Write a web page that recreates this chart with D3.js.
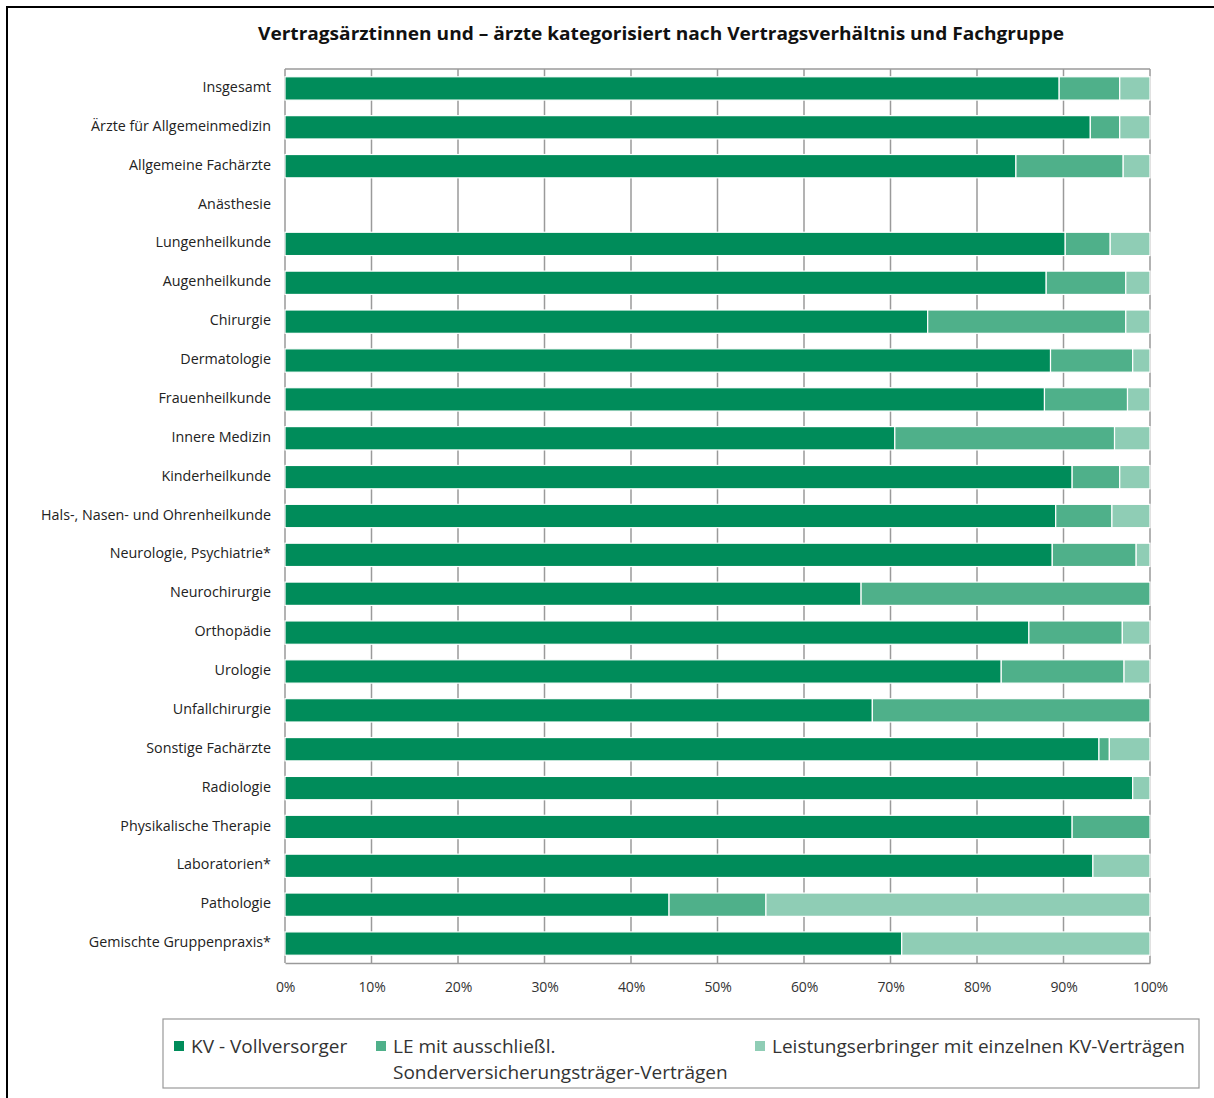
<!DOCTYPE html>
<html><head><meta charset="utf-8">
<script src="https://cdn.jsdelivr.net/npm/d3@7"></script>
<style>
html,body{margin:0;padding:0;background:#fff;}
svg{display:block;}
</style></head>
<body>
<svg id="c" width="1214" height="1098"></svg>
<script>
const title = "Vertragsärztinnen und – ärzte kategorisiert nach Vertragsverhältnis und Fachgruppe";
const categories = ["Insgesamt","Ärzte für Allgemeinmedizin","Allgemeine Fachärzte","Anästhesie","Lungenheilkunde","Augenheilkunde","Chirurgie","Dermatologie","Frauenheilkunde","Innere Medizin","Kinderheilkunde","Hals-, Nasen- und Ohrenheilkunde","Neurologie, Psychiatrie*","Neurochirurgie","Orthopädie","Urologie","Unfallchirurgie","Sonstige Fachärzte","Radiologie","Physikalische Therapie","Laboratorien*","Pathologie","Gemischte Gruppenpraxis*"];
const seriesNames = ["KV - Vollversorger","LE mit ausschließl. Sonderversicherungsträger-Verträgen","Leistungserbringer mit einzelnen KV-Verträgen"];
const kvVoll   = [89.5,93.1,84.5,0,90.2,88.0,74.3,88.5,87.8,70.5,91.0,89.1,88.7,66.6,86.0,82.8,67.9,94.1,98.0,91.0,93.4,44.4,71.3];
const leSonder = [7.0,3.4,12.4,0,5.2,9.2,22.9,9.5,9.6,25.4,5.5,6.5,9.7,33.4,10.8,14.2,32.1,1.2,0,9.0,0,11.2,0];
const leEinzel = [3.5,3.5,3.1,0,4.6,2.8,2.8,2.0,2.6,4.1,3.5,4.4,1.6,0,3.2,3.0,0,4.7,2.0,0,6.6,44.4,28.7];
const tickValues = [0,10,20,30,40,50,60,70,80,90,100];
const colors = ["#008c5a","#4fb08a","#8fcdb5"];

const svg = d3.select("#c");
const font = "'Open Sans', 'Liberation Sans', sans-serif";

// frame
svg.append("path").attr("d","M7,1098 V7 H1214").attr("fill","none").attr("stroke","#000").attr("stroke-width",2);

const x = d3.scaleLinear().domain([0,100]).range([285,1150]);
const y = d3.scaleBand().domain(categories).range([69,963]).paddingInner(0.4).paddingOuter(0.2);

// title
svg.append("text").attr("x",661).attr("y",40).attr("text-anchor","middle")
  .attr("font-family",font).attr("font-weight","bold").attr("font-size",17).attr("fill","#111")
  .attr("textLength",806).attr("lengthAdjust","spacingAndGlyphs").text(title);

// gridlines
svg.append("g").selectAll("line").data(tickValues.slice(1)).join("line")
  .attr("x1",d=>x(d)).attr("x2",d=>x(d)).attr("y1",69).attr("y2",963)
  .attr("stroke","#9a9a9a").attr("stroke-width",1.5);
svg.append("line").attr("x1",285).attr("x2",1150).attr("y1",69).attr("y2",69).attr("stroke","#9a9a9a").attr("stroke-width",1.5);
svg.append("line").attr("x1",285).attr("x2",285).attr("y1",69).attr("y2",963).attr("stroke","#9a9a9a").attr("stroke-width",1.5);

// bars
const data = categories.map((c,i)=>({cat:c, v:[kvVoll[i],leSonder[i],leEinzel[i]]}));
const stack = d3.stack().keys([0,1,2]).value((d,k)=>d.v[k]);
const layers = stack(data);
svg.append("g").selectAll("g").data(layers).join("g").attr("fill",(d,i)=>colors[i])
  .selectAll("rect").data(d=>d.filter(s=>s[1]-s[0]>0)).join("rect")
  .attr("x",d=>x(d[0])).attr("width",d=>x(d[1])-x(d[0]))
  .attr("y",d=>y(d.data.cat)).attr("height",y.bandwidth())
  .attr("stroke","#fff").attr("stroke-width",1.2);

// bottom axis
const xAxis = d3.axisBottom(x).tickValues(tickValues).tickFormat(d=>d+"%").tickSize(0).tickPadding(19);
const gx = svg.append("g").attr("transform","translate(0,963)").call(xAxis);
gx.select(".domain").attr("stroke","#9a9a9a").attr("stroke-width",1.5);
gx.selectAll("text").attr("font-family",font).attr("font-size",14).attr("fill","#333").attr("letter-spacing","-0.2");

// y axis labels
const yAxis = d3.axisLeft(y).tickSize(0).tickPadding(14);
const gy = svg.append("g").attr("transform","translate(285,-1)").call(yAxis);
gy.select(".domain").remove();
gy.selectAll("text").attr("font-family",font).attr("font-size",14.3).attr("fill","#222");

// legend
svg.append("rect").attr("x",163).attr("y",1019).attr("width",1036).attr("height",69)
  .attr("fill","none").attr("stroke","#999").attr("stroke-width",1.2);
const legItems = [
  {x:174, lines:["KV - Vollversorger"]},
  {x:376, lines:["LE mit ausschließl.","Sonderversicherungsträger-Verträgen"]},
  {x:755, lines:["Leistungserbringer mit einzelnen KV-Verträgen"]}
];
const lg = svg.append("g").selectAll("g").data(legItems).join("g");
lg.append("rect").attr("x",d=>d.x).attr("y",1041).attr("width",10).attr("height",10).attr("fill",(d,i)=>colors[i]);
lg.each(function(d){
  const g = d3.select(this);
  d.lines.forEach((t,j)=>{
    g.append("text").attr("x",d.x+17).attr("y",1053+j*26).attr("font-family",font)
     .attr("font-size",19).attr("fill","#333").text(t);
  });
});
</script>
</body></html>
